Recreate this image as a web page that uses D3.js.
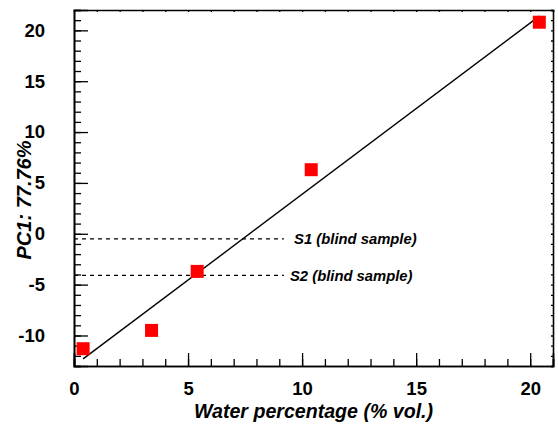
<!DOCTYPE html>
<html>
<head>
<meta charset="utf-8">
<script src="https://cdn.jsdelivr.net/npm/d3@7"></script>
<style>
  html, body { margin: 0; padding: 0; background: #fff; }
  svg { display: block; }
  text { font-family: "Liberation Sans", Arial, sans-serif; font-weight: bold; fill: #000; }
</style>
</head>
<body>
<svg id="chart" width="558" height="425"></svg>
<script>
// ---- data ----
const waterPct = [0.4, 3.4, 5.4, 10.4, 20.4];
const pc1Values = [-11.3, -9.5, -3.7, 6.3, 20.8];
const fitLineX = [0.4, 20.4];
const fitLineY = [-12.3, 21.4];
const blindNames = ["S1 (blind sample)", "S2 (blind sample)"];
const blindPC1 = [-0.5, -4.1];
const blindLineEndX = [9.2, 9.2];
const blindLabelX = [9.65, 9.47];
const xTickValues = [0, 5, 10, 15, 20];
const yTickValues = [-10, -5, 0, 5, 10, 15, 20];
const xDomain = [0, 21];
const yDomain = [-13, 22];

// ---- layout ----
const svg = d3.select("#chart");
const pLeft = 74, pRight = 553, pTop = 10, pBottom = 366;
const x = d3.scaleLinear().domain(xDomain).range([pLeft, pRight]);
const y = d3.scaleLinear().domain(yDomain).range([pBottom, pTop]);

const xMinor = d3.range(xDomain[0], xDomain[1] + 0.001, 1);
const yMinor = d3.range(yDomain[0], yDomain[1] + 0.001, 1);
const fmt = d => String(d);

function styleAxis(g) {
  g.selectAll("path.domain").attr("stroke", "#000").attr("stroke-width", 1.6);
  g.selectAll(".tick line").attr("stroke", "#000").attr("stroke-width", 1.3);
}

// minor ticks bottom / left (inward)
svg.append("g").attr("transform", `translate(0,${pBottom})`)
  .call(d3.axisBottom(x).tickValues(xMinor).tickSize(-7).tickFormat(""))
  .call(styleAxis);
svg.append("g").attr("transform", `translate(${pLeft},0)`)
  .call(d3.axisLeft(y).tickValues(yMinor).tickSize(-7).tickFormat(""))
  .call(styleAxis);
// major ticks with labels
const xAx = svg.append("g").attr("transform", `translate(0,${pBottom})`)
  .call(d3.axisBottom(x).tickValues(xTickValues).tickSize(-13).tickPadding(15.5).tickFormat(fmt))
  .call(styleAxis);
xAx.selectAll("text").attr("font-size", 18.5).attr("font-family", "Liberation Sans, Arial, sans-serif").attr("font-weight", "bold");
const yAx = svg.append("g").attr("transform", `translate(${pLeft},0)`)
  .call(d3.axisLeft(y).tickValues(yTickValues).tickSize(-14).tickPadding(29).tickFormat(fmt))
  .call(styleAxis);
yAx.selectAll("text").attr("font-size", 18.5).attr("font-family", "Liberation Sans, Arial, sans-serif").attr("font-weight", "bold");

// top / right mirrored axes with tiny inward ticks
svg.append("g").attr("transform", `translate(0,${pTop})`)
  .call(d3.axisTop(x).tickValues(xMinor).tickSize(-2).tickFormat(""))
  .call(styleAxis);
svg.append("g").attr("transform", `translate(${pRight},0)`)
  .call(d3.axisRight(y).tickValues(yMinor).tickSize(-2).tickFormat(""))
  .call(styleAxis);

// blind sample dashed lines
blindPC1.forEach((v, i) => {
  svg.append("line")
    .attr("x1", x(0)).attr("x2", x(blindLineEndX[i]))
    .attr("y1", y(v)).attr("y2", y(v))
    .attr("stroke", "#000").attr("stroke-width", 1.2)
    .attr("stroke-dasharray", "4,4");
  svg.append("text")
    .attr("x", x(blindLabelX[i])).attr("y", y(v))
    .attr("dy", "0.36em")
    .attr("font-size", 14.8).attr("font-style", "italic")
    .text(blindNames[i]);
});

// fitted line
const line = d3.line().x(d => x(d[0])).y(d => y(d[1]));
svg.append("path")
  .datum(d3.zip(fitLineX, fitLineY))
  .attr("d", line)
  .attr("fill", "none").attr("stroke", "#000").attr("stroke-width", 1.4);

// data squares
const sq = 13;
svg.append("g").selectAll("rect")
  .data(d3.zip(waterPct, pc1Values))
  .join("rect")
  .attr("x", d => x(d[0]) - sq / 2)
  .attr("y", d => y(d[1]) - sq / 2)
  .attr("width", sq).attr("height", sq)
  .attr("fill", "#ff0000");

// axis titles
svg.append("text")
  .attr("x", (pLeft + pRight) / 2).attr("y", 418)
  .attr("text-anchor", "middle")
  .attr("font-size", 19.6).attr("font-style", "italic")
  .text("Water percentage (% vol.)");
svg.append("text")
  .attr("transform", `translate(31,200) rotate(-90)`)
  .attr("text-anchor", "middle")
  .attr("font-size", 20).attr("font-style", "italic")
  .text("PC1: 77.76%");
</script>
</body>
</html>
